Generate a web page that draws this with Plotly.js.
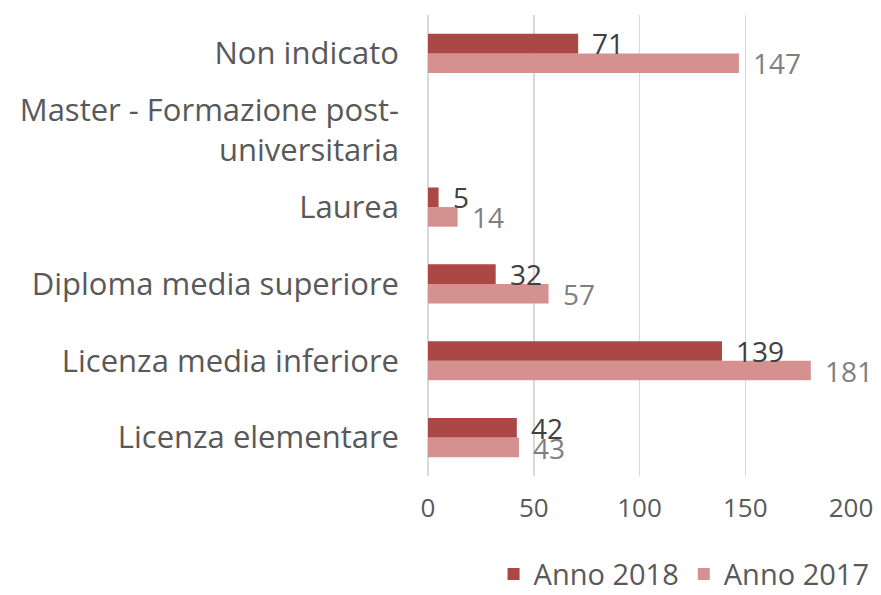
<!DOCTYPE html>
<html><head><meta charset="utf-8">
<script src="https://cdn.plot.ly/plotly-3.0.1.min.js"></script>
<style>html,body{margin:0;padding:0;background:#fff}#chart{width:881px;height:595px}</style>
</head><body><div id="chart"></div>
<script>
const categories = ["Licenza elementare","Licenza media inferiore","Diploma media superiore","Laurea","Master - Formazione post-<br>universitaria","Non indicato"];
const values2018 = [42,139,32,5,null,71];
const values2017 = [43,181,57,14,null,147];
const tickVals = [0,50,100,150,200];
const FONT = "'Open Sans', 'Noto Sans', sans-serif";
const C2018 = "#AB4745", C2017 = "#D49190";

const traces = [
  {type:'bar', orientation:'h', name:'Anno 2017', y:categories, x:values2017, marker:{color:C2017}, hoverinfo:'none'},
  {type:'bar', orientation:'h', name:'Anno 2018', y:categories, x:values2018, marker:{color:C2018}, hoverinfo:'none'}
];
const annotations = [];
categories.forEach((c,i)=>{
  if(values2018[i]!=null) annotations.push({x:values2018[i], y:c, xref:'x', yref:'y', text:String(values2018[i]), showarrow:false, xanchor:'left', yanchor:'middle', xshift:12, yshift:10, font:{family:FONT,size:28,color:'#404040'}});
  if(values2017[i]!=null) annotations.push({x:values2017[i], y:c, xref:'x', yref:'y', text:String(values2017[i]), showarrow:false, xanchor:'left', yanchor:'middle', xshift:12, yshift:-10, font:{family:FONT,size:28,color:'#7F7F7F'}});
});
const layout = {
  width:881, height:595,
  margin:{l:428, r:30, t:15, b:119, autoexpand:false},
  paper_bgcolor:'#fff', plot_bgcolor:'#fff',
  barmode:'group', bargap:0.49, bargroupgap:0,
  font:{family:FONT, color:'#595959'},
  xaxis:{range:[0,200], tickvals:tickVals, showgrid:true, gridcolor:'#D9D9D9', gridwidth:1.5, zeroline:true, zerolinecolor:'#D9D9D9', zerolinewidth:1.5, showline:false, ticks:'', tickfont:{size:26,color:'#595959'}, ticklabelstandoff:14, fixedrange:true},
  yaxis:{type:'category', categoryorder:'array', categoryarray:categories, showgrid:false, zeroline:false, showline:false, ticks:'', tickfont:{size:31,color:'#595959'}, ticklabelstandoff:28, fixedrange:true},
  showlegend:true,
  legend:{orientation:'h', traceorder:'reversed', x:0.155, xanchor:'left', y:-0.213, yanchor:'middle', font:{size:29,color:'#595959'}, itemwidth:30},
  annotations:annotations
};
Plotly.newPlot('chart', traces, layout, {displayModeBar:false, staticPlot:true});
</script></body></html>
